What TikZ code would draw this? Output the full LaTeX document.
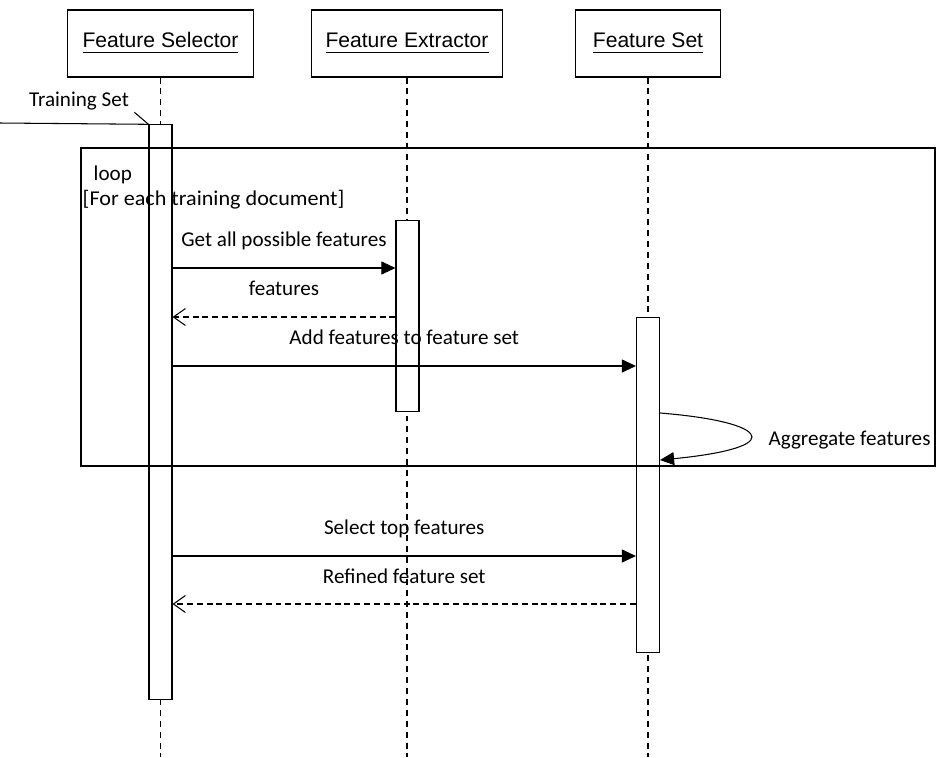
\documentclass[tikz,border=0pt]{standalone}
\usepackage{fontspec}
\setmainfont{Carlito}
\newfontfamily\arialfont{Liberation Sans}
\usetikzlibrary{arrows.meta}

\tikzset{
  lifebox/.style={draw, line width=0.3pt, minimum height=0.67cm, font=\arialfont\fontsize{6}{7.2}\selectfont},
  lifeline/.style={line width=0.3pt, dash pattern=on 1.7pt off 1.4pt},
  actbar/.style={draw, fill=white, line width=0.3pt, minimum width=0.23cm, inner sep=0pt},
  call/.style={line width=0.3pt, -{Triangle[length=4pt,width=3.7pt]}},
  reply/.style={line width=0.3pt, dash pattern=on 1.7pt off 1.1pt, -{Straight Barb[length=3.4pt,width=4.8pt]}},
  msglabel/.style={midway, anchor=base, yshift=0.21cm},
  frame/.style={draw, line width=0.5pt},
}

\begin{document}
\begin{tikzpicture}[x=0.01cm, y=-0.01cm, font=\fontsize{6}{7.2}\selectfont]
  \useasboundingbox (0,0) rectangle (936,757);
  % lifelines
  \node[lifebox, minimum width=1.85cm] (sel) at (160.5,43.5) {\underline{Feature Selector}};
  \node[lifebox, minimum width=1.90cm] (ext) at (407,43.5) {\underline{Feature Extractor}};
  \node[lifebox, minimum width=1.44cm] (fset) at (648,43.5) {\underline{Feature Set}};
  \foreach \n in {sel,ext,fset} \draw[lifeline] (\n.south) -- (\n.south |- 0,757);
  % activations
  \node[actbar, minimum height=5.74cm] (selact) at (160.5,412) {};
  \node[actbar, minimum height=1.90cm] (extact) at (407.5,316) {};
  \node[actbar, minimum height=3.34cm] (setact) at (648,485) {};
  % loop fragment
  \node[frame, minimum width=8.54cm, minimum height=3.18cm, inner sep=0pt] (loopbox) at (508,307) {};
  \node[anchor=base west, inner sep=0pt] (looplabel) at (93,180) {loop};
  \node[anchor=base west, inner sep=0pt, xscale=1.05] (guard) at (82,205) {[For each training document]};
  % incoming
  \coordinate (tsin) at (0,123);
  \node[inner sep=0pt] (tslabel) at (79,101) {Training Set};
  \draw[line width=0.3pt] (tsin) -- (selact.north west);
  \draw[line width=0.3pt] (selact.north west) -- ++(-14,-12);
  % messages
  \draw[call] (selact.east |- 0,268) -- (extact.west |- 0,268) node[msglabel] {Get all possible features};
  \draw[reply] (extact.west |- 0,317) -- (selact.east |- 0,317) node[msglabel] {features};
  \draw[call] (selact.east |- 0,366) -- (setact.west |- 0,366) node[msglabel] {Add features to feature set};
  \draw[call] (setact.east |- 0,413) .. controls (722,418) and (752,428) .. (752,437)
    .. controls (752,446) and (722,454) .. (setact.east |- 0,460);
  \node[anchor=west, inner sep=0pt] (agglabel) at (768,440) {Aggregate features};
  \draw[call] (selact.east |- 0,556) -- (setact.west |- 0,556) node[msglabel] {Select top features};
  \draw[reply] (setact.west |- 0,604) -- (selact.east |- 0,604) node[msglabel] {Refined feature set};
\end{tikzpicture}
\end{document}
